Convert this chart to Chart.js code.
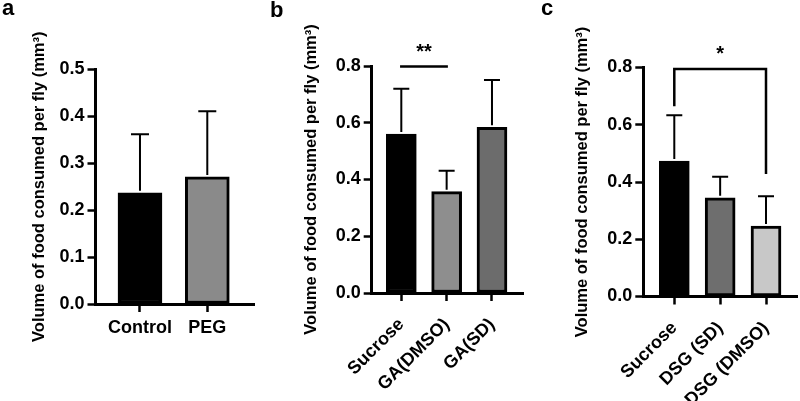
<!DOCTYPE html>
<html>
<head>
<meta charset="utf-8">
<script src="https://cdn.jsdelivr.net/npm/chart.js@4.4.1/dist/chart.umd.min.js"></script>
<style>
  html, body { margin: 0; padding: 0; background: #fff; }
  #wrap { position: relative; width: 800px; height: 401px; overflow: hidden; }
  .panel { position: absolute; top: 0; height: 401px; }
  .tag { position: absolute; font: bold 22px/22px "Liberation Sans", Arial, sans-serif; color: #000; }
</style>
</head>
<body>
<div id="wrap">
  <div class="panel" style="left:0;width:262px"><canvas id="chartA"></canvas></div>
  <div class="panel" style="left:262px;width:268px"><canvas id="chartB"></canvas></div>
  <div class="panel" style="left:530px;width:270px"><canvas id="chartC"></canvas></div>
  <div class="tag" style="left:2px;top:-3px">a</div>
  <div class="tag" style="left:270px;top:-1px">b</div>
  <div class="tag" style="left:541px;top:-3px">c</div>
</div>
<script>
// panel a
const aLabels = ['Control', 'PEG'];
const aMeans = [0.237, 0.271];
const aSD = [0.125, 0.14];

// panel b
const bLabels = ['Sucrose', 'GA(DMSO)', 'GA(SD)'];
const bMeans = [0.56, 0.357, 0.584];
const bSD = [0.16, 0.074, 0.167];
const bSigPair = [0, 1];
const bSigLevel = 0.798;
const bSigLegs = [0.798, 0.798];
const bSigText = '**';

// panel c
const cLabels = ['Sucrose', 'DSG (SD)', 'DSG (DMSO)'];
const cMeans = [0.473, 0.345, 0.246];
const cSD = [0.16, 0.073, 0.104];
const cSigPair = [0, 2];
const cSigLevel = 0.795;
const cSigLegs = [0.669, 0.432];
const cSigText = '*';

const yTitle = 'Volume of food consumed per fly (mm³)';
const FONT = '"Liberation Sans", Arial, sans-serif';

function errorBars(means, sds, cap) {
    return {
        id: 'errorBars',
        afterDatasetsDraw(chart) {
            const { ctx, scales: { x, y } } = chart;
            ctx.save();
            ctx.strokeStyle = '#000';
            ctx.lineWidth = 2;
            means.forEach((m, i) => {
                const px = x.getPixelForValue(i);
                const base = y.getPixelForValue(m);
                const top = y.getPixelForValue(m + sds[i]);
                ctx.beginPath();
                ctx.moveTo(px, base - 2);
                ctx.lineTo(px, top);
                ctx.moveTo(px - cap / 2, top);
                ctx.lineTo(px + cap / 2, top);
                ctx.stroke();
            });
            ctx.restore();
        }
    };
}

function sigMark(pair, level, legs, text) {
    return {
        id: 'sigMark',
        afterDraw(chart) {
            if (!pair) return;
            const { ctx, scales: { x, y } } = chart;
            const x1 = x.getPixelForValue(pair[0]);
            const x2 = x.getPixelForValue(pair[1]);
            const yl = y.getPixelForValue(level);
            ctx.save();
            ctx.strokeStyle = '#000';
            ctx.lineWidth = 2.5;
            ctx.lineCap = 'square';
            ctx.beginPath();
            ctx.moveTo(x1, y.getPixelForValue(legs[0]));
            ctx.lineTo(x1, yl);
            ctx.lineTo(x2, yl);
            ctx.lineTo(x2, y.getPixelForValue(legs[1]));
            ctx.stroke();
            ctx.fillStyle = '#000';
            ctx.font = 'bold 20px ' + FONT;
            ctx.textAlign = 'center';
            ctx.textBaseline = 'middle';
            ctx.fillText(text, (x1 + x2) / 2, yl - 14);
            ctx.restore();
        }
    };
}

function makePanel(id, labels, means, sds, colors, o) {
    const tickFont = { family: FONT, size: 18, weight: 'bold' };
    new Chart(document.getElementById(id), {
        type: 'bar',
        data: {
            datasets: [{
                data: labels.map((_, i) => ({ x: i, y: means[i] })),
                backgroundColor: colors,
                borderColor: '#000',
                borderWidth: 3,
                borderSkipped: false,
                barThickness: o.barWidth
            }]
        },
        options: {
            responsive: true,
            maintainAspectRatio: false,
            animation: false,
            layout: { padding: { left: 0, right: o.padRight, top: o.padTop, bottom: 0 } },
            plugins: { legend: { display: false }, tooltip: { enabled: false } },
            scales: {
                x: {
                    type: 'linear',
                    min: o.xMin,
                    max: o.xMax,
                    offset: false,
                    afterBuildTicks: s => { s.ticks = labels.map((_, i) => ({ value: i })); },
                    afterFit: s => { s.height = o.xHeight; },
                    grid: { offset: false, drawOnChartArea: false, drawTicks: true, tickLength: 8, tickWidth: 2.5, tickColor: '#000' },
                    border: { display: true, color: '#000', width: 3 },
                    ticks: {
                        color: '#000', font: tickFont, padding: o.labelPad, autoSkip: false,
                        minRotation: o.rot, maxRotation: o.rot,
                        callback: v => labels[v]
                    }
                },
                y: {
                    min: 0,
                    max: o.yMax,
                    afterFit: s => { s.width = o.yWidth; },
                    grid: { drawOnChartArea: false, drawTicks: true, tickLength: 8, tickWidth: 2.5, tickColor: '#000' },
                    border: { display: true, color: '#000', width: 3 },
                    ticks: { stepSize: o.step, color: '#000', font: tickFont, padding: 3, callback: v => v.toFixed(1) },
                    title: {
                        display: true, text: yTitle, color: '#000',
                        font: { family: FONT, size: 16.5, weight: 'bold' },
                        padding: { top: o.titlePad, bottom: 0 }
                    }
                }
            }
        },
        plugins: [errorBars(means, sds, o.cap), sigMark(o.sig && o.sig[0], o.sig && o.sig[1], o.sig && o.sig[2], o.sig && o.sig[3])]
    });
}

makePanel('chartA', aLabels, aMeans, aSD, ['#000000', '#8a8a8a'], {
    barWidth: 44, padRight: 8, padTop: 69.5, xHeight: 97, yWidth: 95.5, titlePad: 30,
    xMin: -0.661, xMax: 1.694, yMax: 0.5, step: 0.1, rot: 0, labelPad: 5, cap: 18
});
makePanel('chartB', bLabels, bMeans, bSD, ['#000000', '#8e8e8e', '#6c6c6c'], {
    barWidth: 30, padRight: 7, padTop: 66, xHeight: 108, yWidth: 109.7, titlePad: 39.5,
    xMin: -0.653, xMax: 2.684, yMax: 0.8, step: 0.2, rot: 45, labelPad: 13, cap: 16,
    sig: [bSigPair, bSigLevel, bSigLegs, bSigText]
});
makePanel('chartC', cLabels, cMeans, cSD, ['#000000', '#6e6e6e', '#c8c8c8'], {
    barWidth: 30, padRight: 3, padTop: 67.5, xHeight: 104.5, yWidth: 113.3, titlePad: 43,
    xMin: -0.676, xMax: 2.676, yMax: 0.8, step: 0.2, rot: 45, labelPad: 13, cap: 16,
    sig: [cSigPair, cSigLevel, cSigLegs, cSigText]
});
</script>
</body>
</html>
